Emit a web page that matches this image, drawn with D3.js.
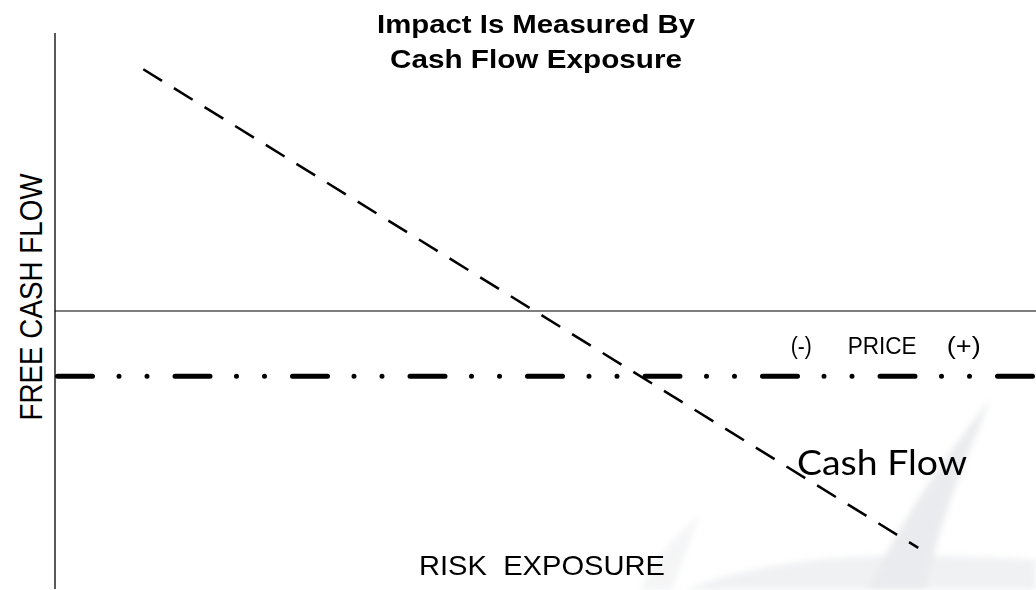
<!DOCTYPE html>
<html>
<head>
<meta charset="utf-8">
<script src="https://cdn.jsdelivr.net/npm/d3@7"></script>
<style>
  html, body { margin: 0; padding: 0; background: #fff; }
  svg { display: block; }
  text { font-family: "Liberation Sans", Arial, sans-serif; fill: #000; }
</style>
</head>
<body>
<svg id="chart" width="1036" height="590"></svg>
<script>
// Conceptual exposure diagram: cash flow versus price.
const titleLines = ["Impact Is Measured By", "Cash Flow Exposure"];
const titleWidths = [318, 292];
const cashFlowX = [9, 88];          // price axis position (0–100)
const cashFlowY = [10, -9.8];       // free cash flow level
const priceLevel = [0];             // the price reference line
const exposureLevel = [-2.7];       // risk-exposure threshold
const yLabel = "FREE CASH FLOW";
const xLabel = "RISK  EXPOSURE";
const priceLabels = ["(-)", "PRICE", "(+)"];
const priceLabelX = [75.0, 80.8, 90.9];
const priceLabelW = [21, 69, 34];
const seriesLabel = "Cash Flow";

const W = 1036, H = 590;
const svg = d3.select("#chart");

const x = d3.scaleLinear().domain([0, 100]).range([55, 1036]);
const y = d3.scaleLinear().domain([-11.5, 11.5]).range([589, 33]);

svg.append("rect").attr("width", W).attr("height", H).attr("fill", "#fff");

// faint background emblem
const defs = svg.append("defs");
defs.append("filter").attr("id", "soft")
  .append("feGaussianBlur").attr("stdDeviation", 3);
const emblem = svg.append("g").attr("fill", "#d9dbe0")
  .attr("opacity", 0.55).attr("filter", "url(#soft)");
emblem.append("path")
  .attr("d", "M990,400 C975,440 945,500 925,590 L868,590 C900,520 950,450 990,400 Z");
emblem.append("path")
  .attr("d", "M685,590 C760,560 860,548 1036,560 L1036,590 Z")
  .attr("opacity", 0.7);
emblem.append("path")
  .attr("d", "M640,590 C655,560 675,535 700,515 C690,540 680,565 672,590 Z")
  .attr("opacity", 0.5);

// title
svg.append("g").selectAll("text").data(titleLines).join("text")
  .attr("x", 536).attr("y", (d, i) => 33 + i * 35)
  .attr("text-anchor", "middle")
  .attr("font-size", 26).attr("font-weight", "bold")
  .attr("textLength", (d, i) => titleWidths[i])
  .attr("lengthAdjust", "spacingAndGlyphs")
  .text(d => d);

// vertical axis
svg.append("line")
  .attr("x1", x(0)).attr("x2", x(0))
  .attr("y1", y(11.5)).attr("y2", y(-11.5))
  .attr("stroke", "#000").attr("stroke-width", 1.3);

// price line
svg.append("g").selectAll("line").data(priceLevel).join("line")
  .attr("x1", x(0)).attr("x2", x(100))
  .attr("y1", d => y(d)).attr("y2", d => y(d))
  .attr("stroke", "#000").attr("stroke-width", 1.2);

// risk-exposure threshold (dash-dot-dot)
svg.append("g").selectAll("line").data(exposureLevel).join("line")
  .attr("x1", x(0) + 2.5).attr("x2", x(100) + 10)
  .attr("y1", d => y(d)).attr("y2", d => y(d))
  .attr("stroke", "#000").attr("stroke-width", 5)
  .attr("stroke-linecap", "round")
  .attr("stroke-dasharray", "35,26.5,0,28,0,28");

// cash flow line
const line = d3.line().x(d => x(d[0])).y(d => y(d[1]));
svg.append("path")
  .datum(d3.zip(cashFlowX, cashFlowY))
  .attr("d", line)
  .attr("fill", "none").attr("stroke", "#000")
  .attr("stroke-width", 2.5)
  .attr("stroke-dasharray", "22,14");

// labels
svg.append("text")
  .attr("transform", "translate(42,297) rotate(-90)")
  .attr("text-anchor", "middle")
  .attr("font-size", 31)
  .attr("textLength", 247).attr("lengthAdjust", "spacingAndGlyphs")
  .text(yLabel);

svg.append("text")
  .attr("x", 419).attr("y", 575)
  .attr("font-size", 27.5)
  .attr("textLength", 246).attr("lengthAdjust", "spacingAndGlyphs")
  .attr("xml:space", "preserve")
  .style("white-space", "pre")
  .text(xLabel);

svg.append("g").selectAll("text").data(priceLabels).join("text")
  .attr("x", (d, i) => x(priceLabelX[i]))
  .attr("y", 354)
  .attr("font-size", 23)
  .attr("textLength", (d, i) => priceLabelW[i])
  .attr("lengthAdjust", "spacingAndGlyphs")
  .text(d => d);

svg.append("text")
  .attr("x", 797).attr("y", 475)
  .style("font-family", "Lato, 'Open Sans', sans-serif")
  .attr("font-size", 35)
  .attr("textLength", 170).attr("lengthAdjust", "spacingAndGlyphs")
  .text(seriesLabel);
</script>
</body>
</html>
